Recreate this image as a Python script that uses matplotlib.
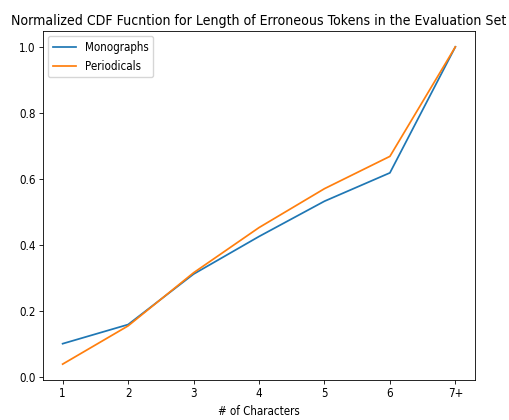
import matplotlib
matplotlib.use("Agg")
import matplotlib.pyplot as plt

categories = ["1", "2", "3", "4", "5", "6", "7+"]
monographs = [0.100, 0.158, 0.311, 0.425, 0.532, 0.618, 1.0]
periodicals = [0.038, 0.154, 0.315, 0.452, 0.570, 0.668, 1.0]
yticks = [0.0, 0.2, 0.4, 0.6, 0.8, 1.0]
ytick_labels = ["0.0", "0.2", "0.4", "0.6", "0.8", "1.0"]
title = "Normalized CDF Fucntion for Length of Erroneous Tokens in the Evaluation Set"
xlabel = "# of Characters"

plt.rcParams['font.family'] = ['DejaVu Sans']
plt.rcParams['font.stretch'] = 'condensed'

W, H = 509, 420
fig = plt.figure(figsize=(W / 100, H / 100), dpi=100)
ax = fig.add_axes([43 / W, 1 - 380 / H, (475 - 43) / W, (380 - 31) / H])

x = list(range(len(categories)))
ax.plot(x, monographs, color="#1f77b4", lw=1.25, label="Monographs")
ax.plot(x, periodicals, color="#ff7f0e", lw=1.25, label="Periodicals")

# fit text sizes to the reference widths
renderer = fig.canvas.get_renderer()
t_probe = fig.text(0, 0, title, fontsize=10)
title_w = t_probe.get_window_extent(renderer).width
t_probe.remove()
l_probe = fig.text(0, 0, xlabel, fontsize=10)
label_w = l_probe.get_window_extent(renderer).width
l_probe.remove()
title_fs = 10 * 494 / title_w
label_fs = 10 * 82 / label_w

ax.set_xticks(x)
ax.set_xticklabels(categories)
ax.set_yticks(yticks)
ax.set_yticklabels(ytick_labels)
ax.tick_params(labelsize=label_fs, length=2.8, width=0.6, pad=2.5)
for s in ax.spines.values():
    s.set_linewidth(0.6)
ax.set_xlabel(xlabel, fontsize=label_fs, labelpad=3.5)
ax.set_title(title, fontsize=title_fs, pad=4)
ax.legend(loc="upper left", fontsize=label_fs, frameon=True, borderaxespad=0.45,
          handlelength=2.0, framealpha=0.8)

fig.savefig("out.png", dpi=100)
